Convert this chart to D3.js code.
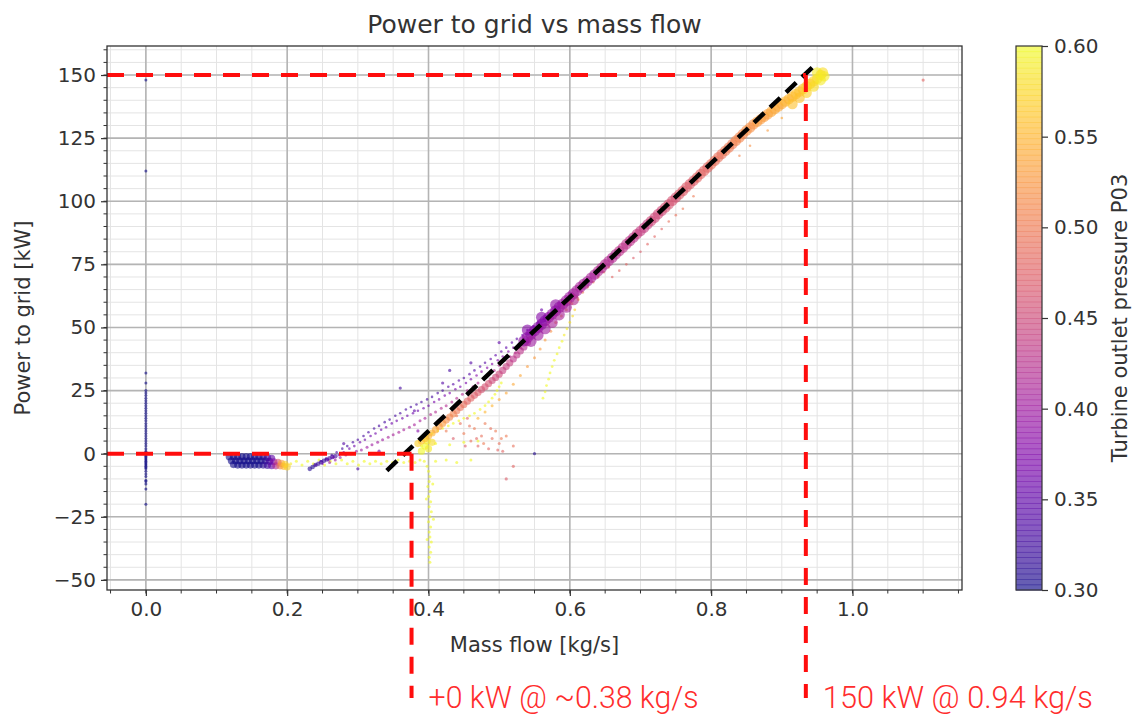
<!DOCTYPE html>
<html lang="en">
<head>
<meta charset="utf-8">
<title>Power to grid vs mass flow</title>
<script src="https://d3js.org/d3.v7.min.js"></script>
<style>
  body { margin: 0; background: #fff; }
  text { font-family: "DejaVu Sans", sans-serif; fill: #333; }
</style>
</head>
<body>
<div id="chart"></div>
<script>
// each point: [mass flow kg/s, power to grid kW, turbine outlet pressure P03]
var idleZero = [
  [0, 148, 0.30], [0, 112, 0.30], [0, 32, 0.30], [0, 28, 0.30], [0, 25, 0.30], [0, 24, 0.30],
  [0, 23, 0.30], [0, 22, 0.30], [0, 21, 0.30], [0, 20, 0.30], [0, 19, 0.30], [0, 18, 0.30],
  [0, 17, 0.30], [0, 16, 0.30], [0, 15, 0.30], [0, 14, 0.30], [0, 13, 0.30], [0, 12, 0.30],
  [0, 11, 0.30], [0, 10, 0.30], [0, 9, 0.30], [0, 8, 0.30], [0, 7, 0.30], [0, 6, 0.30],
  [0, 5, 0.30], [0, 4, 0.30], [0, 3, 0.30], [0, 2, 0.30], [0, 1, 0.30], [0, 0.5, 0.30],
  [0, 0, 0.30], [0, -0.5, 0.30], [0, -1, 0.30], [0, -1.5, 0.30], [0, -2, 0.30], [0, -2.5, 0.30],
  [0, -3, 0.30], [0, -3.5, 0.30], [0, -4, 0.30], [0, -4.5, 0.30], [0, -5, 0.30], [0, -5.5, 0.30],
  [0, -6, 0.30], [0, -7, 0.30], [0, -8, 0.30], [0, -9, 0.30], [0, -10.5, 0.30], [0, -11, 0.30],
  [0, -12, 0.30], [0, -14, 0.30], [0, -20, 0.30]
];
var lowFlow = [
  [0.118, -1.2, 0.30], [0.124, -1.2, 0.30], [0.130, -1.2, 0.30], [0.136, -1.2, 0.30], [0.142, -1.2, 0.30],
  [0.148, -1.2, 0.30], [0.154, -1.2, 0.30], [0.160, -1.2, 0.30], [0.166, -1.2, 0.31], [0.172, -1.5, 0.32],
  [0.178, -1.8, 0.35],
  [0.121, -2.8, 0.30], [0.127, -2.8, 0.30], [0.133, -2.8, 0.30], [0.139, -2.8, 0.30], [0.145, -2.8, 0.30],
  [0.151, -2.8, 0.30], [0.157, -2.8, 0.30], [0.163, -2.8, 0.30], [0.169, -2.8, 0.31], [0.175, -3, 0.33],
  [0.181, -3.2, 0.38], [0.187, -3.4, 0.46],
  [0.124, -4.3, 0.30], [0.130, -4.5, 0.30], [0.136, -4.5, 0.30], [0.142, -4.5, 0.30], [0.148, -4.5, 0.30],
  [0.154, -4.5, 0.30], [0.160, -4.5, 0.30], [0.166, -4.5, 0.31], [0.172, -4.6, 0.32], [0.178, -4.7, 0.35],
  [0.184, -4.8, 0.42], [0.19, -4.8, 0.50], [0.195, -5, 0.55], [0.2, -5.2, 0.57], [0.192, -3.8, 0.53],
  [0.197, -4.2, 0.57]
];
var startupYellow = [
  [0.205, -4, 0.59], [0.213, -3, 0.60], [0.221, -4.5, 0.60], [0.229, -3, 0.60], [0.237, -4, 0.60],
  [0.245, -2.5, 0.60], [0.253, -4.5, 0.60], [0.261, -3, 0.60], [0.269, -4, 0.60], [0.277, -2.5, 0.60],
  [0.285, -4, 0.60], [0.293, -3, 0.60], [0.301, -4.5, 0.60], [0.309, -3, 0.60], [0.317, -4, 0.60],
  [0.325, -3, 0.60], [0.333, -4, 0.60], [0.341, -3, 0.60], [0.349, -3.5, 0.60], [0.357, -2.5, 0.60],
  [0.365, -3.5, 0.60], [0.373, -3, 0.60], [0.381, -3.5, 0.60], [0.388, -2.5, 0.60], [0.394, -3, 0.60],
  [0.398, -5, 0.60], [0.4, -7, 0.60], [0.402, -9, 0.60], [0.401, -11, 0.60], [0.399, -13, 0.60],
  [0.402, -15, 0.60], [0.4, -17, 0.60], [0.403, -19, 0.60], [0.401, -21, 0.60], [0.404, -23, 0.60],
  [0.402, -25, 0.60], [0.4, -27, 0.60], [0.403, -29, 0.60], [0.401, -31, 0.60], [0.402, -33, 0.60],
  [0.404, -35, 0.60], [0.401, -37, 0.60], [0.403, -39, 0.60], [0.401, -41, 0.60], [0.402, -43, 0.60],
  [0.406, -12, 0.60], [0.397, -18, 0.60], [0.407, -26, 0.60], [0.398, -34, 0.60],
  [0.41, -3, 0.60], [0.425, -2.5, 0.60], [0.44, -3.5, 0.60], [0.46, -2.5, 0.60],
  [0.39, 3, 0.60], [0.41, 4, 0.60], [0.43, 3.5, 0.60], [0.45, 4.5, 0.60], [0.47, 5, 0.60]
];
var lowSegment = [
  [0.232, -6, 0.31], [0.236, -5.3, 0.31], [0.24, -4.5, 0.32], [0.244, -4, 0.32], [0.248, -3.4, 0.32],
  [0.252, -2.8, 0.32], [0.256, -2.3, 0.32], [0.26, -1.8, 0.33], [0.264, -1.3, 0.33], [0.268, -1, 0.33]
];
var rampUpper = [
  [0.24, -4.5, 0.33], [0.248, -3, 0.33], [0.255, -2, 0.33], [0.263, -0.5, 0.33], [0.27, 0.5, 0.33],
  [0.278, 2, 0.33], [0.285, 3, 0.33], [0.293, 4.5, 0.33], [0.3, 5.5, 0.33], [0.308, 7, 0.33],
  [0.315, 8.5, 0.33], [0.323, 10, 0.33], [0.33, 11, 0.33], [0.338, 12.5, 0.33], [0.345, 13.5, 0.33],
  [0.353, 15, 0.33], [0.36, 16, 0.33], [0.368, 17.5, 0.33], [0.375, 18.5, 0.33], [0.383, 19.5, 0.33],
  [0.39, 20.5, 0.33], [0.398, 21.5, 0.33], [0.405, 22.5, 0.33], [0.413, 24, 0.33], [0.42, 25, 0.33],
  [0.428, 26.5, 0.34], [0.435, 27.5, 0.34], [0.443, 29, 0.34], [0.45, 30, 0.34], [0.458, 31.5, 0.34],
  [0.465, 33, 0.34], [0.473, 34.5, 0.34], [0.48, 36, 0.34], [0.488, 37.5, 0.35], [0.495, 39, 0.35],
  [0.503, 40.5, 0.35], [0.51, 42, 0.35], [0.518, 44, 0.35], [0.525, 45.5, 0.35], [0.533, 47, 0.36],
  [0.54, 49, 0.36], [0.548, 50.5, 0.36], [0.555, 52, 0.36], [0.563, 53.5, 0.37], [0.57, 55, 0.37]
];
var rampMid = [
  [0.25, -4, 0.36], [0.258, -2.5, 0.36], [0.265, -1.5, 0.36], [0.273, -0.5, 0.36], [0.28, 0.5, 0.36],
  [0.288, 2, 0.36], [0.295, 3, 0.36], [0.303, 4.5, 0.36], [0.31, 5.5, 0.36], [0.318, 7, 0.36],
  [0.325, 8, 0.36], [0.333, 9.5, 0.36], [0.34, 10.5, 0.36], [0.348, 12, 0.36], [0.355, 13, 0.36],
  [0.363, 14, 0.36], [0.37, 15, 0.36], [0.378, 16, 0.36], [0.385, 17, 0.36], [0.393, 18, 0.36],
  [0.4, 19, 0.36], [0.408, 20.5, 0.37], [0.415, 21.5, 0.37], [0.423, 23, 0.37], [0.43, 24, 0.37],
  [0.438, 25.5, 0.37], [0.445, 26.5, 0.37], [0.453, 28, 0.37], [0.46, 29.5, 0.37], [0.468, 31, 0.38],
  [0.475, 32.5, 0.38], [0.483, 34, 0.38], [0.49, 35.5, 0.38], [0.498, 37, 0.38], [0.505, 38.5, 0.38],
  [0.513, 40.5, 0.38], [0.52, 42, 0.38], [0.528, 43.5, 0.39], [0.535, 45.5, 0.39]
];
var rampLower = [
  [0.26, -3.5, 0.40], [0.268, -2.5, 0.40], [0.275, -1.5, 0.40], [0.283, -0.5, 0.40], [0.29, 0, 0.40],
  [0.298, 1, 0.40], [0.305, 1.5, 0.40], [0.313, 2.5, 0.40], [0.32, 3.5, 0.40], [0.328, 4.5, 0.40],
  [0.335, 5.5, 0.40], [0.343, 6.5, 0.41], [0.35, 7.5, 0.41], [0.358, 8.5, 0.41], [0.365, 9.5, 0.41],
  [0.373, 10.5, 0.41], [0.38, 11.5, 0.41], [0.388, 13, 0.41], [0.395, 14, 0.41], [0.403, 15.5, 0.42],
  [0.41, 16.5, 0.42], [0.418, 18, 0.42], [0.425, 19, 0.42], [0.433, 20.5, 0.42], [0.44, 22, 0.42],
  [0.448, 23.5, 0.42], [0.455, 25, 0.42], [0.463, 26.5, 0.42], [0.47, 28, 0.42], [0.478, 30, 0.42],
  [0.485, 31.5, 0.42], [0.493, 33, 0.42], [0.5, 35, 0.42], [0.508, 37, 0.42], [0.515, 38.5, 0.42],
  [0.523, 40, 0.42], [0.53, 42, 0.42]
];
var rampBand = [
  [0.39, 1, 0.60], [0.395, 3, 0.60], [0.4, 2, 0.59], [0.405, 4.5, 0.58], [0.398, 5, 0.59],
  [0.385, 4.0, 0.57], [0.39, 5.0, 0.56], [0.395, 6.0, 0.56], [0.40, 7.0, 0.55], [0.405, 8.2, 0.55],
  [0.41, 9.5, 0.54], [0.415, 10.8, 0.53], [0.42, 12.0, 0.53], [0.425, 13.3, 0.52], [0.43, 14.5, 0.51],
  [0.435, 15.8, 0.51], [0.44, 17.0, 0.50], [0.445, 18.3, 0.49], [0.45, 19.5, 0.49], [0.455, 20.8, 0.48],
  [0.46, 22.0, 0.48], [0.465, 23.1, 0.47], [0.47, 24.2, 0.47], [0.475, 25.4, 0.46], [0.48, 26.5, 0.46],
  [0.485, 27.8, 0.46], [0.49, 29.0, 0.45], [0.495, 30.2, 0.45], [0.50, 31.5, 0.45], [0.505, 33.0, 0.44],
  [0.51, 34.5, 0.44], [0.515, 36.0, 0.44], [0.52, 37.5, 0.43], [0.525, 39.1, 0.43], [0.53, 40.7, 0.43],
  [0.535, 42.3, 0.42], [0.54, 44.0, 0.42]
];
var purpleBlob = [
  [0.535, 44.7, 0.39], [0.54, 46, 0.39], [0.545, 47.3, 0.39], [0.55, 48.7, 0.38], [0.555, 50, 0.38],
  [0.56, 51.3, 0.38], [0.565, 52.7, 0.38], [0.57, 54, 0.39], [0.575, 55.3, 0.39], [0.58, 56.6, 0.39],
  [0.585, 58, 0.39], [0.59, 59.3, 0.40], [0.595, 60.6, 0.40], [0.6, 62, 0.40], [0.605, 63.3, 0.40],
  [0.61, 64.6, 0.41], [0.615, 66, 0.41], [0.62, 67.2, 0.41],
  [0.545, 44.5, 0.40], [0.555, 47, 0.40], [0.565, 49.5, 0.40], [0.575, 52, 0.41], [0.585, 55, 0.41],
  [0.595, 58, 0.41], [0.605, 61, 0.42], [0.54, 49, 0.38], [0.56, 54, 0.38], [0.58, 59, 0.39]
];
var highBand = [
  [0.625, 68.3, 0.41], [0.63, 69.7, 0.41], [0.635, 71, 0.41], [0.64, 72.3, 0.42], [0.645, 73.6, 0.42],
  [0.65, 75, 0.42], [0.655, 76.3, 0.42], [0.66, 77.6, 0.42], [0.665, 79, 0.42], [0.67, 80.3, 0.43],
  [0.675, 81.6, 0.43], [0.68, 83, 0.43], [0.685, 84.3, 0.43], [0.69, 85.6, 0.43], [0.695, 87, 0.44],
  [0.7, 88.2, 0.44], [0.705, 89.5, 0.44], [0.71, 90.9, 0.44], [0.715, 92.2, 0.45], [0.72, 93.5, 0.45],
  [0.725, 94.9, 0.45], [0.73, 96.2, 0.45], [0.735, 97.5, 0.46], [0.74, 98.8, 0.46], [0.745, 100.2, 0.46],
  [0.75, 101.5, 0.46], [0.755, 102.8, 0.47], [0.76, 104.1, 0.47], [0.765, 105.5, 0.47], [0.77, 106.8, 0.47],
  [0.775, 108.1, 0.47], [0.78, 109.4, 0.48], [0.785, 110.8, 0.48], [0.79, 112.1, 0.48], [0.795, 113.4, 0.48],
  [0.8, 114.7, 0.49], [0.805, 116, 0.49], [0.81, 117.4, 0.49], [0.815, 118.7, 0.49], [0.82, 120, 0.50],
  [0.825, 121.3, 0.50], [0.83, 122.7, 0.50], [0.835, 124, 0.51], [0.84, 125.3, 0.51], [0.845, 126.6, 0.51],
  [0.85, 128, 0.52], [0.855, 129.2, 0.52], [0.86, 130.5, 0.52], [0.865, 131.5, 0.53], [0.87, 132.5, 0.53],
  [0.875, 133.5, 0.53], [0.88, 134.5, 0.53], [0.885, 135.5, 0.54], [0.89, 136.5, 0.54], [0.895, 137.5, 0.54],
  [0.9, 138.5, 0.54], [0.905, 139.5, 0.55], [0.91, 140.5, 0.55], [0.915, 141.5, 0.55], [0.92, 142.5, 0.56],
  [0.925, 143.5, 0.56], [0.93, 144.5, 0.56], [0.935, 145.5, 0.57], [0.94, 146.5, 0.57], [0.945, 147.5, 0.57],
  [0.95, 148.5, 0.58], [0.955, 150, 0.58], [0.958, 151, 0.58],
  [0.915, 138.5, 0.56], [0.925, 141, 0.56], [0.935, 143, 0.57], [0.945, 145.5, 0.58], [0.955, 148, 0.59],
  [0.95, 151, 0.59], [0.96, 149.5, 0.59]
];
var yellowBranch = [
  [0.39, 6, 0.60], [0.398, 7, 0.60], [0.405, 8, 0.60], [0.413, 9, 0.60], [0.42, 10, 0.60],
  [0.428, 11, 0.60], [0.435, 12, 0.60], [0.443, 13, 0.60], [0.45, 14, 0.60], [0.458, 15, 0.60],
  [0.465, 16, 0.60], [0.473, 17.5, 0.60], [0.48, 19, 0.60], [0.485, 20.5, 0.60], [0.49, 22, 0.60],
  [0.494, 23.5, 0.60], [0.497, 25, 0.60], [0.5, 26.5, 0.60], [0.503, 28, 0.60],
  [0.562, 22, 0.60], [0.565, 24.5, 0.60], [0.567, 27, 0.60], [0.57, 29.5, 0.60], [0.572, 32, 0.60],
  [0.575, 34.5, 0.60], [0.578, 37, 0.60], [0.582, 39.5, 0.60], [0.585, 42, 0.60], [0.589, 44.5, 0.60],
  [0.592, 47, 0.59], [0.596, 49.5, 0.59], [0.6, 52, 0.58], [0.604, 54.5, 0.58], [0.607, 57, 0.57],
  [0.612, 61, 0.56]
];
var orangeBranch = [
  [0.47, 14, 0.55], [0.48, 16.5, 0.55], [0.49, 19, 0.55], [0.5, 21.5, 0.54], [0.51, 24, 0.54],
  [0.52, 27.5, 0.54], [0.53, 31, 0.54], [0.54, 34.5, 0.53], [0.55, 38, 0.53], [0.558, 41.5, 0.53],
  [0.565, 45, 0.53], [0.573, 48.5, 0.52], [0.58, 52, 0.52], [0.588, 54.5, 0.52], [0.595, 57, 0.52],
  [0.603, 59.5, 0.51], [0.61, 62, 0.51], [0.618, 64, 0.50], [0.625, 66, 0.50], [0.633, 68, 0.50],
  [0.64, 70, 0.50], [0.648, 72, 0.49], [0.655, 74, 0.49]
];
var pinkScatter = [
  [0.445, 12, 0.49], [0.45, 8, 0.50], [0.455, 14, 0.48], [0.46, 5, 0.49], [0.465, 10, 0.50],
  [0.47, 3, 0.48], [0.475, 7, 0.49], [0.48, 12, 0.50], [0.485, 2, 0.48], [0.49, 6, 0.49],
  [0.495, 9, 0.50], [0.5, 4, 0.49], [0.505, 1, 0.48], [0.51, 7, 0.50], [0.425, 9, 0.50],
  [0.435, 6, 0.47], [0.52, 3, 0.49], [0.44, 15, 0.50], [0.458, 11, 0.49], [0.468, 6, 0.48],
  [0.478, 4, 0.50], [0.488, 10, 0.49], [0.498, 1.5, 0.48], [0.503, 6, 0.50], [0.452, 3, 0.47]
];
var trailing = [
  [0.66, 70, 0.48], [0.67, 72.5, 0.48], [0.68, 75, 0.48], [0.69, 77.5, 0.47], [0.7, 80, 0.47],
  [0.71, 83, 0.48], [0.72, 86, 0.48], [0.73, 89, 0.48], [0.74, 92, 0.49], [0.75, 94.5, 0.49],
  [0.76, 97, 0.50], [0.775, 102, 0.50], [0.78, 108, 0.52], [0.84, 118, 0.51], [0.855, 122, 0.52],
  [0.88, 128, 0.53], [0.9, 133, 0.54]
];
var outliers = [
  [0.55, 0, 0.31], [0.52, -5, 0.48], [0.51, -10, 0.47], [0.3, -6, 0.33], [0.38, 17, 0.35],
  [0.36, 26, 0.33], [0.42, 28, 0.34], [0.46, 36, 0.34], [0.5, 44, 0.35], [0.56, 57, 0.36],
  [0.6, 60, 0.45], [1.1, 148, 0.48], [0.43, 33, 0.33], [0.28, 4, 0.34], [0.33, 1, 0.36],
  [0.385, 9, 0.38]
];

var xTicks = [0, 0.2, 0.4, 0.6, 0.8, 1.0];
var yTicks = [-50, -25, 0, 25, 50, 75, 100, 125, 150];
var cbTicks = [0.30, 0.35, 0.40, 0.45, 0.50, 0.55, 0.60];

// linear fit and the two operating points
var fitLine = [[0.341, -6.7], [0.951, 155.1]];
var zeroPoint = { flow: 0.376, power: 0, label: "+0 kW @ ~0.38 kg/s" };
var fullPoint = { flow: 0.934, power: 150, label: "150 kW @ 0.94 kg/s" };

var margin = { top: 46, right: 177, bottom: 127, left: 107 },
    width = 855, height = 544;

var series = [
  { data: idleZero, r: 1.5 },
  { data: startupYellow, r: 1.5 },
  { data: lowFlow, r: 3.6 },
  { data: lowSegment, r: 2.3 },
  { data: rampUpper, r: 1.3 },
  { data: rampMid, r: 1.3 },
  { data: rampLower, r: 1.5 },
  { data: pinkScatter, r: 1.5 },
  { data: yellowBranch, r: 1.4 },
  { data: orangeBranch, r: 1.5 },
  { data: trailing, r: 1.3 },
  { data: rampBand, r: 3.6 },
  { data: purpleBlob, r: 5.6 },
  { data: highBand, r: 5.3 },
  { data: outliers, r: 1.6 }
];

var x = d3.scaleLinear().domain([-0.055, 1.155]).range([0, width]);
var y = d3.scaleLinear().domain([-54, 161.5]).range([height, 0]);
var c = d3.scaleSequential(d3.interpolatePlasma).domain([0.30, 0.60]);
var cbY = d3.scaleLinear().domain([0.30, 0.60]).range([height, 0]);

var svg = d3.select("#chart").append("svg")
    .attr("width", 1139).attr("height", 717);

var main = svg.append("g")
    .attr("transform", "translate(" + margin.left + "," + margin.top + ")");

svg.append("text")
    .attr("x", margin.left + width / 2).attr("y", 33)
    .attr("text-anchor", "middle").style("font-size", "25px")
    .text("Power to grid vs mass flow");

// grid: minor then major
var xMinor = d3.range(-0.05, 1.151, 0.05), yMinor = d3.range(-50, 161, 5);
main.append("g").selectAll("line").data(xMinor).enter().append("line")
    .attr("x1", d => x(d)).attr("x2", d => x(d)).attr("y1", 0).attr("y2", height)
    .attr("stroke", "#e4e4e4").attr("stroke-width", 1);
main.append("g").selectAll("line").data(yMinor).enter().append("line")
    .attr("y1", d => y(d)).attr("y2", d => y(d)).attr("x1", 0).attr("x2", width)
    .attr("stroke", "#e4e4e4").attr("stroke-width", 1);
main.append("g").selectAll("line").data(xTicks).enter().append("line")
    .attr("x1", d => x(d)).attr("x2", d => x(d)).attr("y1", 0).attr("y2", height)
    .attr("stroke", "#b4b4b4").attr("stroke-width", 1.6);
main.append("g").selectAll("line").data(yTicks).enter().append("line")
    .attr("y1", d => y(d)).attr("y2", d => y(d)).attr("x1", 0).attr("x2", width)
    .attr("stroke", "#b4b4b4").attr("stroke-width", 1.6);

// scatter
main.append("clipPath").attr("id", "clip").append("rect")
    .attr("width", width).attr("height", height);
var dots = main.append("g").attr("clip-path", "url(#clip)");
series.forEach(function(s) {
  dots.append("g").selectAll("circle").data(s.data).enter().append("circle")
      .attr("cx", d => x(d[0])).attr("cy", d => y(d[1])).attr("r", s.r)
      .attr("fill", d => c(d[2])).attr("fill-opacity", 0.6);
});

// fit line
main.append("line")
    .attr("x1", x(fitLine[0][0])).attr("y1", y(fitLine[0][1]))
    .attr("x2", x(fitLine[1][0])).attr("y2", y(fitLine[1][1]))
    .attr("stroke", "#000").attr("stroke-width", 4.5).attr("stroke-dasharray", "14,8");

// red markers
var red = "#ff0d0d", dropTo = height + 108;
[zeroPoint, fullPoint].forEach(function(p) {
  main.append("line")
      .attr("x1", 0).attr("x2", x(p.flow)).attr("y1", y(p.power)).attr("y2", y(p.power))
      .attr("stroke", red).attr("stroke-width", 4).attr("stroke-dasharray", "17,12");
  main.append("line")
      .attr("x1", x(p.flow)).attr("x2", x(p.flow)).attr("y1", y(p.power)).attr("y2", dropTo)
      .attr("stroke", red).attr("stroke-width", 4).attr("stroke-dasharray", "17,12");
  main.append("text")
      .attr("x", x(p.flow) + 17).attr("y", height + 118)
      .attr("textLength", 270).attr("lengthAdjust", "spacingAndGlyphs")
      .style("font-family", "Roboto, sans-serif").style("font-weight", 300)
      .style("font-size", "31px").style("fill", "#ff2d2d")
      .text(p.label);
});

// axes
var xAxis = d3.axisBottom(x).tickValues(xTicks).tickFormat(d3.format(".1f")).tickSize(6).tickPadding(6);
var yAxis = d3.axisLeft(y).tickValues(yTicks).tickFormat(d3.format("d")).tickSize(6).tickPadding(5);

var gx = main.append("g").attr("transform", "translate(0," + height + ")").call(xAxis);
var gy = main.append("g").call(yAxis);
[gx, gy].forEach(function(g) {
  g.select(".domain").remove();
  g.selectAll("text").style("font-size", "20px").style("font-family", "DejaVu Sans").attr("fill", "#333");
  g.selectAll("line").attr("stroke", "#333").attr("stroke-width", 1.2);
});
main.append("g").attr("transform", "translate(0," + height + ")").selectAll("line")
    .data(xMinor).enter().append("line")
    .attr("x1", d => x(d)).attr("x2", d => x(d)).attr("y1", 0).attr("y2", 3.5)
    .attr("stroke", "#333");
main.append("g").selectAll("line").data(yMinor).enter().append("line")
    .attr("y1", d => y(d)).attr("y2", d => y(d)).attr("x1", 0).attr("x2", -3.5)
    .attr("stroke", "#333");

main.append("rect").attr("width", width).attr("height", height)
    .attr("fill", "none").attr("stroke", "#333").attr("stroke-width", 1.3);

main.append("text")
    .attr("x", width / 2).attr("y", height + 62)
    .attr("text-anchor", "middle").style("font-size", "21px")
    .text("Mass flow [kg/s]");
svg.append("text")
    .attr("transform", "translate(30," + (margin.top + height / 2) + ") rotate(-90)")
    .attr("text-anchor", "middle").style("font-size", "21px")
    .text("Power to grid [kW]");

// colorbar
var cb = svg.append("g").attr("transform", "translate(1016," + margin.top + ")");
var steps = d3.range(0, 1, 1 / 100);
cb.selectAll("rect.s").data(steps).enter().append("rect")
    .attr("x", 0).attr("width", 26)
    .attr("y", d => cbY(0.30 + (d + 0.01) * 0.30)).attr("height", height / 100 + 0.6)
    .attr("fill", d => c(0.30 + (d + 0.005) * 0.30)).attr("fill-opacity", 0.65);
cb.append("rect").attr("width", 26).attr("height", height)
    .attr("fill", "none").attr("stroke", "#333").attr("stroke-width", 1.2);
var cbAxis = d3.axisRight(cbY).tickValues(cbTicks).tickFormat(d3.format(".2f")).tickSize(6).tickPadding(6);
var gc = cb.append("g").attr("transform", "translate(26,0)").call(cbAxis);
gc.select(".domain").remove();
gc.selectAll("text").style("font-size", "20px").style("font-family", "DejaVu Sans").attr("fill", "#333");
gc.selectAll("line").attr("stroke", "#333").attr("stroke-width", 1.2);
svg.append("text")
    .attr("transform", "translate(1127," + (margin.top + height / 2) + ") rotate(-90)")
    .attr("text-anchor", "middle").style("font-size", "21px")
    .text("Turbine outlet pressure P03");
</script>
</body>
</html>
